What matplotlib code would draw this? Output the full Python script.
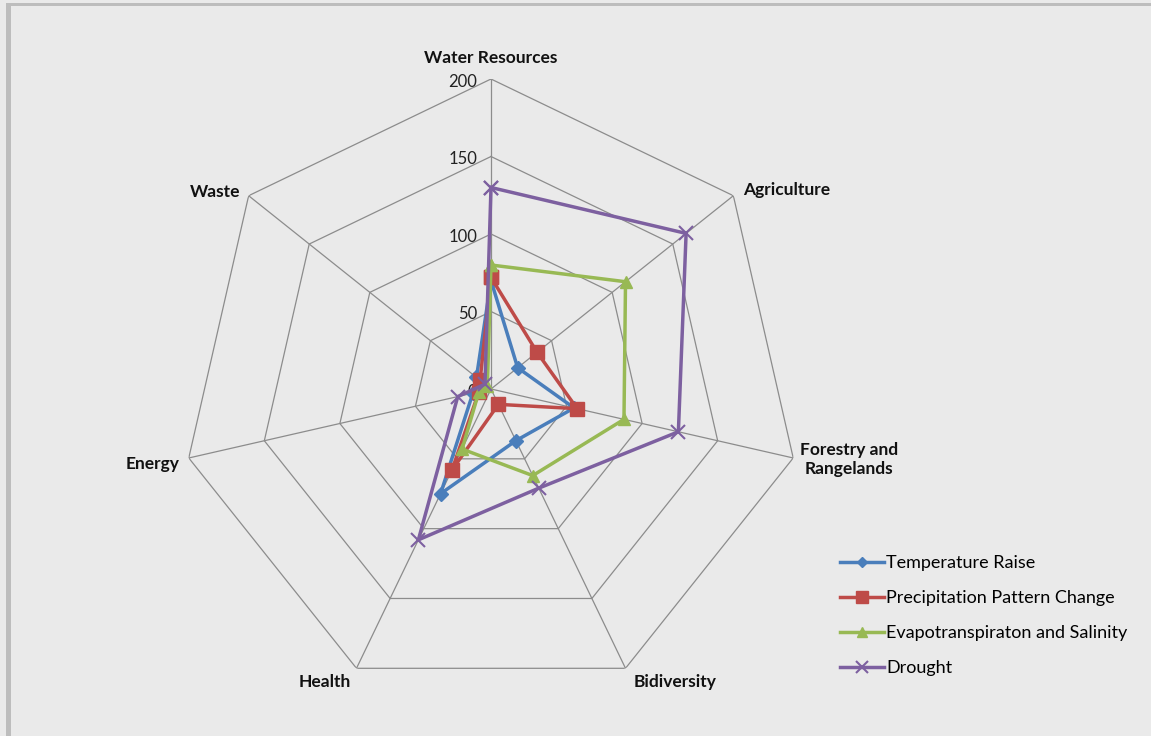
import numpy as np
import matplotlib
matplotlib.use("Agg")
import matplotlib.pyplot as plt
from matplotlib.patches import Rectangle

# sectors on the radar, clockwise from the top
categories = ["Water Resources", "Agriculture", "Forestry and\nRangelands",
              "Bidiversity", "Health", "Energy", "Waste"]

temperature_raise = [70, 22, 55, 37, 75, 12, 12]
precipitation_change = [72, 38, 57, 11, 58, 8, 9]
evapotranspiration = [80, 111, 88, 62, 43, 8, 3]
drought = [130, 161, 124, 71, 108, 22, 5]

ring_values = [0, 50, 100, 150, 200]
ring_labels = ["0", "50", "100", "150", "200"]

series = [
    ("Temperature Raise", temperature_raise, "#4a7ebb", "D", 7),
    ("Precipitation Pattern Change", precipitation_change, "#be4b48", "s", 10),
    ("Evapotranspiraton and Salinity", evapotranspiration, "#98b954", "^", 9),
    ("Drought", drought, "#7d60a0", "x", 10),
]

BG = "#eaeaea"
W, H = 1151, 736
cx, cy, R = 491, 389, 310

fig = plt.figure(figsize=(W / 100, H / 100), dpi=100, facecolor=BG)
fig.patches.append(Rectangle((6 / W, 0), 5 / W, 1 - 4 / H, transform=fig.transFigure,
                             facecolor="#bdbdbd", edgecolor="none", zorder=0))
fig.patches.append(Rectangle((6 / W, 1 - 6 / H), 1 - 6 / W, 3 / H, transform=fig.transFigure,
                             facecolor="#bdbdbd", edgecolor="none", zorder=0))

ax = fig.add_axes([(cx - R) / W, 1 - (cy + R) / H, 2 * R / W, 2 * R / H], projection="polar")
ax.set_facecolor("none")
ax.set_theta_offset(np.pi / 2)
ax.set_theta_direction(-1)
ax.set_ylim(0, 200)
ax.grid(False)
ax.spines["polar"].set_visible(False)
ax.set_xticks([])
ax.set_yticks([])

n = len(categories)
angles = np.arange(n) * 2 * np.pi / n
closed = np.append(angles, angles[0])

# heptagon rings and spokes
for r in ring_values[1:]:
    ax.plot(closed, [r] * (n + 1), color="#8c8c8c", lw=0.9, zorder=1)
for a in angles:
    ax.plot([a, a], [0, 200], color="#8c8c8c", lw=0.9, zorder=1)

for r, lab in zip(ring_values, ring_labels):
    ax.annotate(lab, xy=(0, r), xytext=(-10, -2), textcoords="offset points",
                ha="right", va="center", fontsize=12, family="Lato", color="#222222")

# category label offsets (points) from the outer vertex
label_pos = [
    ((0, 15), "center", "center"),
    ((7, 4), "left", "center"),
    ((40, -1), "center", "center"),
    ((36, -10), "center", "center"),
    ((-23, -10), "center", "center"),
    ((-7, -4), "right", "center"),
    ((-6, 3), "right", "center"),
]
for a, name, (off, ha, va) in zip(angles, categories, label_pos):
    ax.annotate(name, xy=(a, 200), xytext=off, textcoords="offset points",
                ha=ha, va=va, fontsize=12.5, fontweight="bold", family="Lato",
                color="#111111", linespacing=1.2, annotation_clip=False)

for name, vals, col, mk, ms in series:
    v = np.append(vals, vals[0])
    kw = dict(markeredgecolor=col, markerfacecolor=col)
    if mk == "x":
        kw = dict(markeredgewidth=1.5)
    ax.plot(closed, v, color=col, lw=2.5, marker=mk, markersize=ms, label=name,
            zorder=3, clip_on=False, **kw)

fig.legend(loc="upper left", bbox_to_anchor=(824 / W, 1 - 539 / H), frameon=False,
           handlelength=2.4, handletextpad=0.15, labelspacing=1.05,
           prop={"family": "Lato", "size": 13}, markerscale=0.8)

fig.savefig("out.png", dpi=100, facecolor=BG)
